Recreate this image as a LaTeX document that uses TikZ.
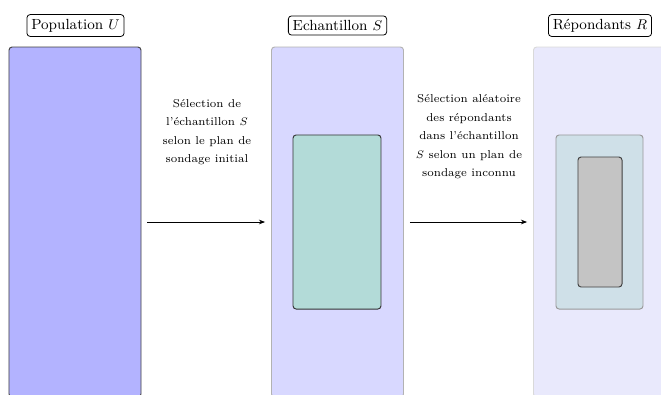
\documentclass[tikz,border=0pt]{standalone}
\usetikzlibrary{arrows.meta}
\definecolor{colA}{RGB}{179,179,255}
\definecolor{colB}{RGB}{216,216,255}
\definecolor{colC}{RGB}{233,233,252}
\definecolor{tealfill}{RGB}{179,219,216}
\definecolor{respfill}{RGB}{207,224,232}
\definecolor{grayfill}{RGB}{196,196,196}
\tikzset{
  colbox/.style={rounded corners=2pt, line width=0.6pt, minimum width=84.5pt, minimum height=224pt, inner sep=0pt},
  innerbox/.style={rounded corners=2pt, line width=0.6pt, inner sep=0pt},
  title/.style={draw, rounded corners=2pt, line width=0.5pt, fill=white, inner sep=2.8pt, font=\fontsize{9.4}{11}\selectfont},
  desc/.style={align=center, font=\fontsize{7.3}{11.8}\selectfont},
  conn/.style={-{Stealth[length=4pt,width=3pt]}, line width=0.5pt, shorten <=3.8pt, shorten >=3.8pt}
}
\begin{document}
\begin{tikzpicture}[x=0.64pt,y=-0.64pt]
\useasboundingbox (0,0) rectangle (661,394);
\begin{scope}
\clip (0,0) rectangle (661,394);
\node[colbox, draw=black!75, fill=colA] (pop) at (75,222) {};
\node[colbox, draw=black!30, fill=colB] (ech) at (337.5,222) {};
\node[colbox, draw=black!15, fill=colC] (rep) at (599.5,222) {};
\end{scope}
\node[innerbox, draw=black!80, fill=tealfill, minimum width=56.3pt, minimum height=111.4pt] (echin) at (337,222) {};
\node[innerbox, draw=black!40, fill=respfill, minimum width=55.7pt, minimum height=111.4pt] (repout) at (599.5,222) {};
\node[innerbox, draw=black!75, fill=grayfill, minimum width=28.2pt, minimum height=83.2pt] (repin) at (600,222) {};
\node[title] (tpop) at (75.5,25.5) {Population $U$};
\node[title] (tech) at (337.5,25.5) {Echantillon $S$};
\node[title] (trep) at (600,25.5) {Répondants $R$};
\node[desc] (d1) at (207,132) {Sélection de\\l’échantillon $S$\\selon le plan de\\sondage initial};
\node[desc] (d2) at (469,137) {Sélection aléatoire\\des répondants\\dans l’échantillon\\$S$ selon un plan de\\sondage inconnu};
\draw[conn] (pop.east) -- (ech.west);
\draw[conn] (ech.east) -- (rep.west);
\end{tikzpicture}
\end{document}
